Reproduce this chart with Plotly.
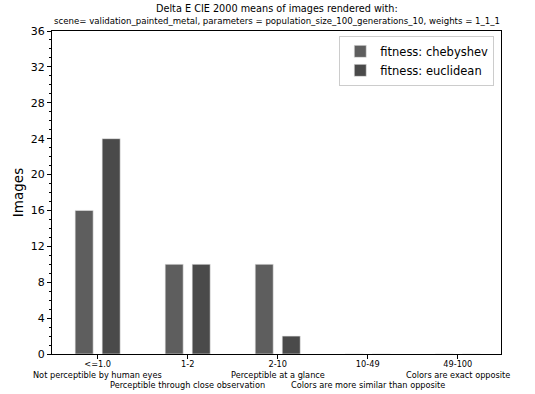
import plotly.graph_objects as go

categories = ["<=1.0", "1-2", "2-10", "10-49", "49-100"]
descriptions = [
    "Not perceptible by human eyes",
    "Perceptible through close observation",
    "Perceptible at a glance",
    "Colors are more similar than opposite",
    "Colors are exact opposite",
]
chebyshev = [16, 10, 10, 0, 0]
euclidean = [24, 10, 2, 0, 0]
series_names = ["fitness: chebyshev", "fitness: euclidean"]
series_colors = ["#5e5e5e", "#4a4a4a"]

title_lines = [
    "Delta E CIE 2000 means of images rendered with:",
    "scene= validation_painted_metal, parameters = population_size_100_generations_10, weights = 1_1_1",
]

FONT = "DejaVu Sans"

fig = go.Figure()
for name, vals, col in zip(series_names, [chebyshev, euclidean], series_colors):
    fig.add_trace(go.Bar(
        x=list(range(len(categories))), y=vals, name=name,
        marker=dict(color=col, line=dict(color="#e8e8e8", width=0.6)),
    ))

annotations = []
# title (two lines)
annotations.append(dict(text=title_lines[0], xref="paper", yref="paper",
                        x=0.5, y=1, yshift=15, xanchor="center", yanchor="bottom",
                        showarrow=False, font=dict(family=FONT, size=9.7, color="#000")))
annotations.append(dict(text=title_lines[1], xref="paper", yref="paper",
                        x=0.5, y=1, yshift=3, xanchor="center", yanchor="bottom",
                        showarrow=False, font=dict(family=FONT, size=8.6, color="#000")))
# descriptions, alternating rows
for i, d in enumerate(descriptions):
    annotations.append(dict(text=d, xref="x", yref="paper", x=i, y=0,
                            yshift=-21 - (10 if i % 2 else 0), xanchor="center", yanchor="middle",
                            showarrow=False, font=dict(family=FONT, size=8.2, color="#000")))

fig.update_layout(
    width=535, height=394,
    margin=dict(l=52, r=34, t=31, b=40),
    paper_bgcolor="white", plot_bgcolor="white",
    barmode="group", bargap=0.4, bargroupgap=1/3,
    font=dict(family=FONT, color="#000"),
    showlegend=True,
    legend=dict(x=0.985, y=0.985, xanchor="right", yanchor="top",
                bgcolor="rgba(255,255,255,0.8)", bordercolor="#cccccc", borderwidth=1,
                font=dict(family=FONT, size=11.5), tracegroupgap=0),
    annotations=annotations,
)
fig.update_xaxes(
    range=[-0.507, 4.48], tickmode="array", tickvals=list(range(len(categories))),
    ticktext=categories, tickfont=dict(family=FONT, size=8.2),
    ticks="outside", ticklen=4, tickcolor="#000", ticklabelstandoff=-2,
    showline=True, linecolor="#000", linewidth=1, mirror=True, showgrid=False, zeroline=False,
)
fig.update_yaxes(
    range=[0, 36], tickmode="array", tickvals=list(range(0, 37, 4)),
    tickfont=dict(family=FONT, size=11), ticks="outside", ticklen=4, tickcolor="#000",
    minor=dict(dtick=1, ticks="outside", ticklen=2, tickcolor="#000"),
    showline=True, linecolor="#000", linewidth=1, mirror=True, showgrid=False, zeroline=False,
    title=dict(text="Images", font=dict(family=FONT, size=13.5), standoff=4),
)

fig.write_html("out.html", config={"displayModeBar": False},
               post_script="document.body.style.margin='0';")
